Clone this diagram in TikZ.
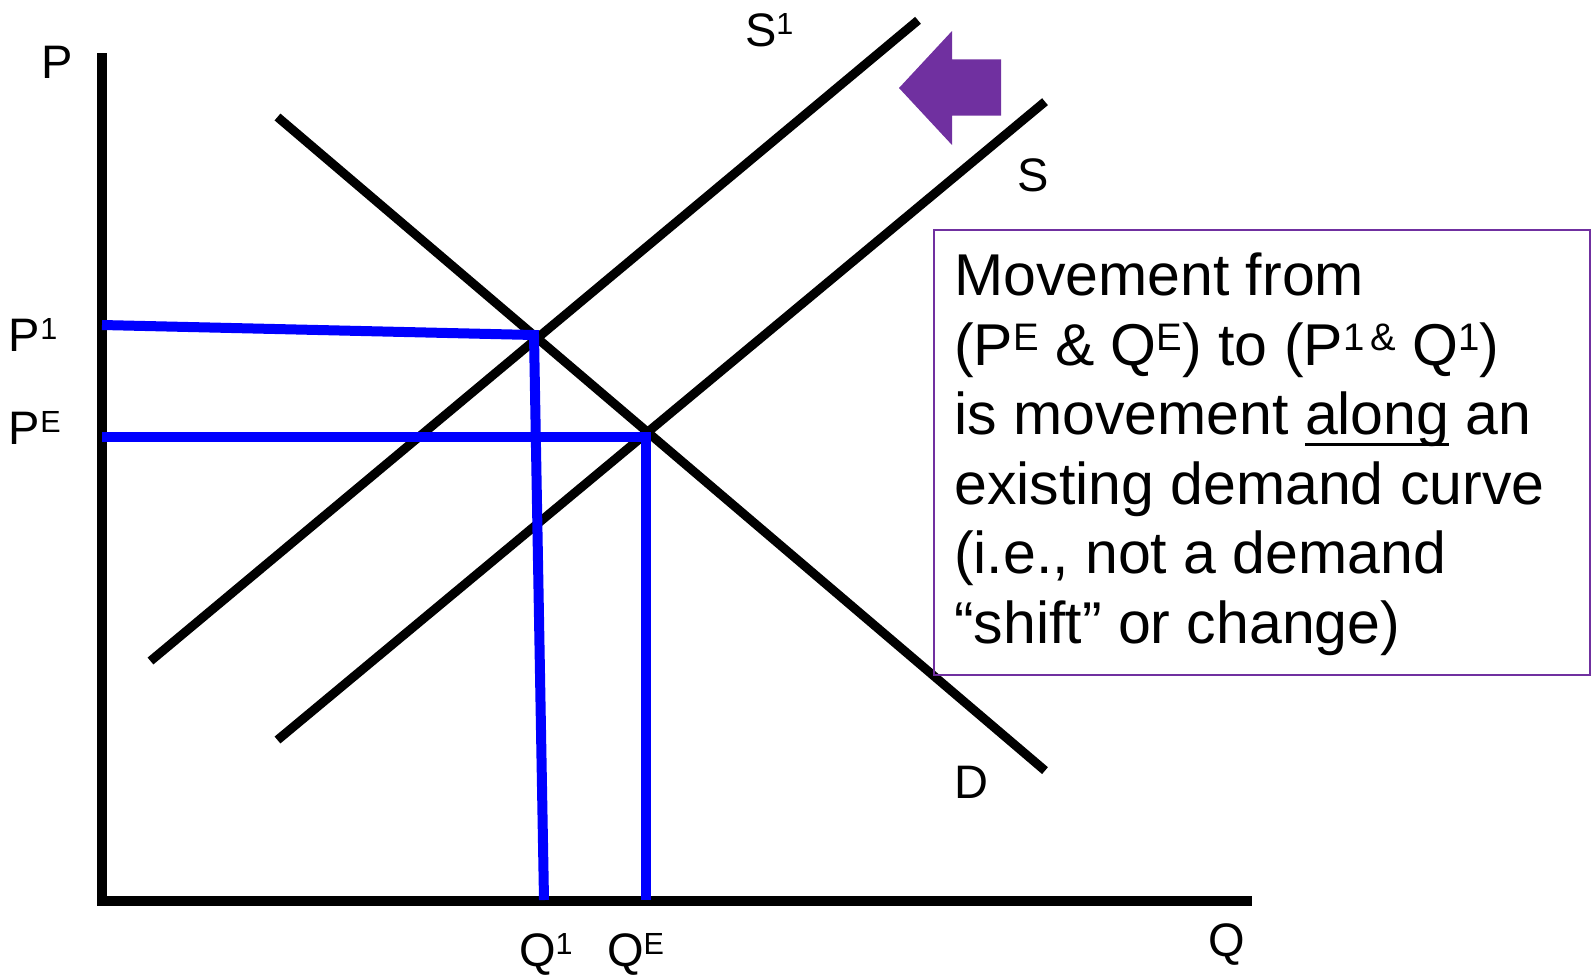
\documentclass[tikz,border=0pt]{standalone}
\usepackage{fontspec}
\setmainfont{Liberation Sans}
\definecolor{shiftpurple}{HTML}{7030A0}
\newcommand{\upscript}[1]{\raisebox{0.25em}{\scalebox{0.65}{#1}}}
\newcommand{\ulnote}[1]{\setbox0\hbox{#1}\rlap{\rule[-11pt]{\wd0}{3pt}}\box0\relax}

\begin{document}
\begin{tikzpicture}[x=1pt,y=-1pt]

\tikzstyle{axis}=[line width=10pt,black,line join=miter]
\tikzstyle{curve}=[line width=9pt,black]
\tikzstyle{guide}=[line width=10pt,blue]
\tikzstyle{lab}=[anchor=base west,inner sep=0pt,outer sep=0pt,font=\fontsize{47}{56}\selectfont]

\useasboundingbox (0,0) rectangle (1594,977);

% axes
\coordinate (top) at (102,53);
\coordinate (origin) at (102,901);
\coordinate (right) at (1252,901);
\draw [axis] (top) -- (origin) -- (right);

% demand and the two supply curves
\coordinate (Dhigh) at (277.5,117);
\coordinate (Dlow) at (1045,770.6);
\coordinate (Slow) at (277.5,740);
\coordinate (Shigh) at (1045,101.7);
\coordinate (Sonelow) at (150.5,661);
\coordinate (Sonehigh) at (918,20.3);
\draw [curve] (Dhigh) -- (Dlow);
\draw [curve] (Slow) -- (Shigh);
\draw [curve] (Sonelow) -- (Sonehigh);

% price and quantity guides
\coordinate (Pone) at (102,325);
\coordinate (Eone) at (534,335);
\coordinate (Qone) at (544,900);
\coordinate (PE) at (102,437);
\coordinate (E) at (645.5,437);
\coordinate (QE) at (645.5,900);
\draw [guide] (Pone) -- (Eone) -- (Qone);
\draw [guide] (PE) -- (E) -- (QE);

% shift arrow
\fill [shiftpurple] (899,88) -- (952,31) -- (952,59.3) -- (1001,59.3) -- (1001,115.7) -- (952,115.7) -- (952,145) -- cycle;

% labels
\node (labP) [lab] at (41,78) {P};
\node (labPone) [lab] at (9,351) {P\upscript{1}};
\node (labPE) [lab] at (9,444) {P\upscript{E}};
\node (labQone) [lab] at (519,966) {Q\upscript{1}};
\node (labQE) [lab] at (607,966) {Q\upscript{E}};
\node (labQ) [lab] at (1208,956) {Q};
\node (labSone) [lab] at (745,46) {S\upscript{1}};
\node (labS) [lab] at (1017,191) {S};
\node (labD) [lab] at (954,798) {D};

% note
\node (box) [draw=shiftpurple,line width=2pt,anchor=north west,inner sep=0pt,minimum width=656pt,minimum height=445pt] at (933,229) {};
\node (note) [anchor=north west,align=left,inner sep=0pt,font=\fontsize{59}{69.5}\selectfont] at (954,253) {Movement from\\(P\upscript{E} \& Q\upscript{E}) to (P\upscript{1\,\&} Q\upscript{1})\\is movement \ulnote{along} an\\existing demand curve\\(i.e., not a demand\\“shift” or change)};

\end{tikzpicture}
\end{document}
